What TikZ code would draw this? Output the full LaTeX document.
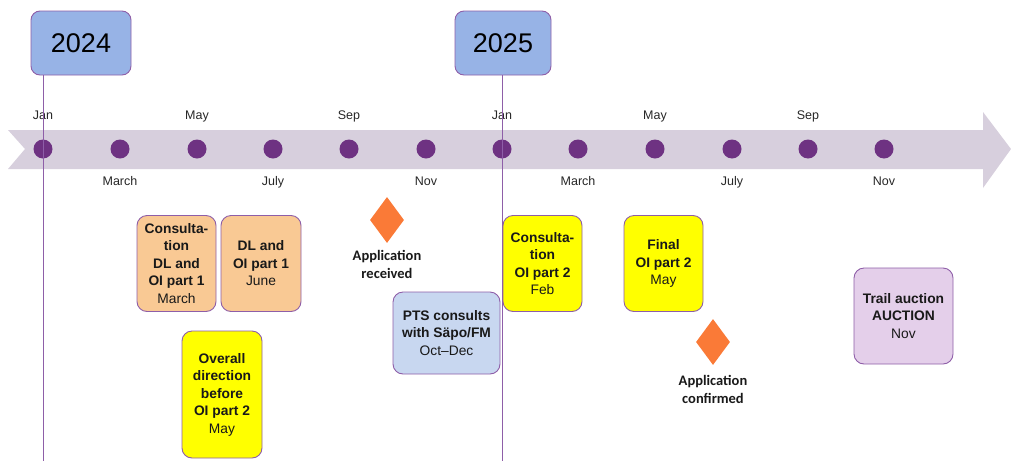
\documentclass[tikz,border=0pt]{standalone}
\usepackage{fontspec}
\setmainfont{Liberation Sans}
\newfontfamily\calfont{Carlito}
\usetikzlibrary{shapes.geometric}
\definecolor{bandc}{RGB}{215,207,221}
\definecolor{dotc}{RGB}{110,50,130}
\definecolor{edgec}{RGB}{142,94,168}
\definecolor{yearc}{RGB}{151,179,230}
\definecolor{orangec}{RGB}{249,201,148}
\definecolor{yellowc}{RGB}{255,255,0}
\definecolor{bluec}{RGB}{200,215,240}
\definecolor{lilac}{RGB}{228,207,234}
\definecolor{diac}{RGB}{250,122,55}
\tikzset{
  yearbox/.style={draw=edgec, line width=0.9pt, fill=yearc, rounded corners=9pt, inner sep=0pt, font=\fontsize{27}{30}\selectfont},
  evbox/.style={draw=edgec, line width=0.9pt, rounded corners=10pt, inner sep=0pt, align=center, font=\fontsize{13.8}{17.5}\selectfont, text=black!90},
  monthlbl/.style={font=\fontsize{12.5}{14}\selectfont, text=black!85, inner sep=0pt},
  dotm/.style={circle, fill=dotc, minimum size=19pt, inner sep=0pt},
  yearline/.style={draw=edgec, line width=0.9pt},
  mile/.style={diamond, fill=diac, minimum width=34pt, minimum height=46pt, inner sep=0pt, aspect=0.74},
  milelbl/.style={font=\calfont\bfseries\fontsize{14.5}{18}\selectfont, align=center, inner sep=0pt, text=black!90}
}
\newcommand{\evb}[1]{\textbf{#1}}
\begin{document}
\begin{tikzpicture}[x=1pt,y=-1pt]
\useasboundingbox (0,0) rectangle (1011,461);
% band
\fill[bandc] (8,130) -- (983,130) -- (983,112) -- (1011,149) -- (983,188) -- (983,169) -- (8,169) -- (25,149) -- cycle;
% dots
\foreach \i/\x in {1/43,2/120,3/197,4/273,5/349,6/426,7/502,8/578,9/655,10/732,11/808,12/884}
  \node[dotm] (d\i) at (\x,149) {};
% month labels
\foreach \i/\m in {1/Jan,3/May,5/Sep,7/Jan,9/May,11/Sep}
  \node[monthlbl, anchor=base] (t\i) at ([yshift=30pt]d\i.center) {\m};
\foreach \i/\m in {2/March,4/July,6/Nov,8/March,10/July,12/Nov}
  \node[monthlbl, anchor=base] (t\i) at ([yshift=-36pt]d\i.center) {\m};
% year boxes
\node[yearbox, minimum width=100pt, minimum height=64pt] (y24) at (81,43) {2024};
\node[yearbox, minimum width=96pt, minimum height=64pt] (y25) at (503,43) {2025};
\coordinate (b1) at (43,461);
\coordinate (b2) at (502,461);
\draw[yearline] (d1 |- y24.south) -- (b1);
\draw[yearline] (d7 |- y25.south) -- (b2);
% events
\node[evbox, fill=orangec, minimum width=79pt, minimum height=96pt] (e1) at (176.5,263.5)
  {\evb{Consulta-}\\\evb{tion}\\\evb{DL and}\\\evb{OI part 1}\\March};
\node[evbox, fill=orangec, minimum width=80pt, minimum height=96pt] (e2) at (261,263.5)
  {\evb{DL and}\\\evb{OI part 1}\\June};
\node[evbox, fill=yellowc, minimum width=80pt, minimum height=127pt] (e3) at (222,394.5)
  {\evb{Overall}\\\evb{direction}\\\evb{before}\\\evb{OI part 2}\\May};
\node[mile] (m1) at (387,220) {};
\node[milelbl, anchor=north] (m1l) at (387,250) {Application\\received};
\node[evbox, fill=bluec, minimum width=107pt, minimum height=82pt] (e4) at (446.5,333)
  {\evb{PTS consults}\\\evb{with Säpo/FM}\\Oct–Dec};
\node[evbox, fill=yellowc, minimum width=79pt, minimum height=96pt] (e5) at (542.5,263.5)
  {\evb{Consulta-}\\\evb{tion}\\\evb{OI part 2}\\Feb};
\node[evbox, fill=yellowc, minimum width=79pt, minimum height=96pt] (e6) at (663.5,263.5)
  {\evb{Final}\\\evb{OI part 2}\\May};
\node[mile] (m2) at (713,342) {};
\node[milelbl, anchor=north] (m2l) at (713,375) {Application\\confirmed};
\node[evbox, fill=lilac, minimum width=99pt, minimum height=96pt] (e7) at (903.5,316)
  {\evb{Trail auction}\\\evb{AUCTION}\\Nov};
\end{tikzpicture}
\end{document}
